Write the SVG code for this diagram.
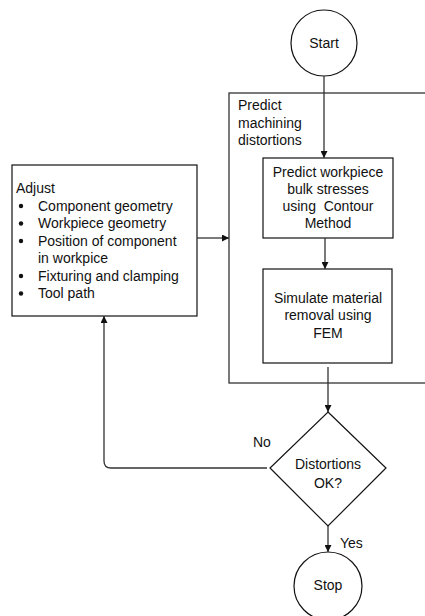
<svg xmlns="http://www.w3.org/2000/svg" width="425" height="616" viewBox="0 0 425 616">
<style>
text{font-family:"Liberation Sans",Arial,sans-serif;font-size:14px;fill:#111}
.c{text-anchor:middle}
.n{fill:#fff;stroke:#111;stroke-width:1.2}
.k{fill:none;stroke:#333;stroke-width:1.3}
.b{fill:#111}
</style>
<defs>
<marker id="ah" viewBox="0 0 8 8" refX="8" refY="4" markerWidth="7" markerHeight="7" markerUnits="userSpaceOnUse" orient="auto">
<path d="M0,0 L8,4 L0,8 z" fill="#111"/>
</marker>
</defs>
<rect width="425" height="616" fill="#fff"/>
<g id="container">
<rect x="229" y="93" width="210" height="290" fill="none" stroke="#333" stroke-width="1.3"/>
<text x="238" y="110">Predict</text>
<text x="238" y="128">machining</text>
<text x="238" y="145">distortions</text>
</g>
<g id="start">
<circle class="n" cx="324" cy="43" r="33"/>
<text class="c" x="324" y="48">Start</text>
</g>
<g id="predict">
<rect class="n" x="263" y="158" width="130" height="80"/>
<text class="c" x="328" y="177">Predict workpiece</text>
<text class="c" x="328" y="194">bulk stresses</text>
<text class="c" x="328" y="211">using&#160; Contour</text>
<text class="c" x="328" y="228">Method</text>
</g>
<g id="simulate">
<rect class="n" x="263" y="269" width="129" height="94"/>
<text class="c" x="328" y="303">Simulate material</text>
<text class="c" x="328" y="320">removal using</text>
<text class="c" x="328" y="338">FEM</text>
</g>
<g id="adjust">
<rect class="n" x="12" y="165" width="185" height="151"/>
<text x="16" y="193">Adjust</text>
<circle class="b" cx="21" cy="206" r="2.2"/>
<circle class="b" cx="21" cy="223.5" r="2.2"/>
<circle class="b" cx="21" cy="241" r="2.2"/>
<circle class="b" cx="21" cy="276" r="2.2"/>
<circle class="b" cx="21" cy="293.5" r="2.2"/>
<text x="38" y="210.5">Component geometry</text>
<text x="38" y="228">Workpiece geometry</text>
<text x="38" y="245.5">Position of component</text>
<text x="38" y="263">in workpice</text>
<text x="38" y="280.5">Fixturing and clamping</text>
<text x="38" y="298">Tool path</text>
</g>
<g id="decision">
<polygon class="n" points="328,412 386,468 328,526 270,468"/>
<text class="c" x="328" y="469">Distortions</text>
<text class="c" x="328" y="488">OK?</text>
</g>
<g id="stop">
<circle class="n" cx="328" cy="586" r="34"/>
<text class="c" x="328" y="590">Stop</text>
</g>
<g id="connectors">
<line class="k" x1="324" y1="76" x2="324" y2="158" marker-end="url(#ah)"/>
<line class="k" x1="325" y1="238" x2="325" y2="269" marker-end="url(#ah)"/>
<line class="k" x1="328" y1="367" x2="328" y2="412" marker-end="url(#ah)"/>
<line class="k" x1="197" y1="238" x2="229" y2="238" marker-end="url(#ah)"/>
<path class="k" d="M267,468 H111 Q104,468 104,461 V316" marker-end="url(#ah)"/>
<line class="k" x1="328" y1="526" x2="328" y2="552" marker-end="url(#ah)"/>
<text x="253" y="447">No</text>
<text x="340" y="548">Yes</text>
</g>
</svg>
